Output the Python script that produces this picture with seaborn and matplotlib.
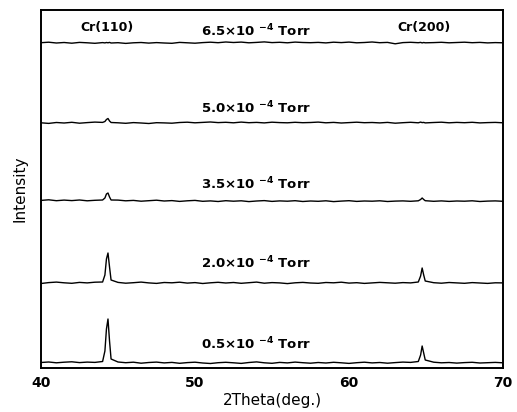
import numpy as np
import pandas as pd
import matplotlib
matplotlib.use("Agg")
import matplotlib.pyplot as plt
import seaborn as sns

# 2-theta sampling: coarse baseline steps, finer steps across the Cr(110) and Cr(200) peaks
two_theta = np.concatenate([
    np.arange(40.0, 44.01, 0.5),
    [44.15, 44.25, 44.35, 44.45, 44.55],
    np.arange(45.0, 64.01, 0.5),
    [64.5, 64.65, 64.75, 64.85, 64.95],
    np.arange(65.5, 70.01, 0.5),
])

# Measured intensity (arb. units) for each working pressure
i_05 = [0.5, 1.0, 0.2, 0.8, 1.2, 0.4, 0.9, 0.6, 1.5,
        12, 34, 44, 22, 4,
        1.0, 0.3, 0.8, -0.2, 0.5, 0.9, 0.1, 0.6, -0.3, 0.4, 0.8, 0.0, -0.5,
        0.3, 0.7, 0.2, -0.4, 0.5, 1.1, 0.2, -0.3, 0.6, 0.1, 0.9, 0.3, -0.2,
        0.5, 0.0, 0.7, 0.2, -0.4, 0.3, 0.8, 0.1, 0.5, -0.2, 0.4, 0.9, 0.6,
        1.5, 8, 17, 10, 3,
        0.8, 0.2, 0.5, -0.1, 0.4, 0.7, 0.0, 0.3, 0.6, 0.2]
i_20 = [-0.5, 0.4, 0.9, 0.2, -0.3, 0.6, 0.1, 0.8, 1.0,
        8, 24, 30, 16, 3,
        0.6, -0.2, 0.3, 0.9, 0.1, -0.4, 0.5, 0.2, 0.8, -0.1, 0.4, -0.5, 0.2,
        0.7, 0.0, 0.5, -0.3, 0.3, 0.9, -0.2, 0.4, 0.1, -0.6, 0.2, 0.6, 0.0,
        -0.3, 0.5, 0.2, 0.8, -0.1, 0.3, -0.4, 0.1, 0.6, 0.2, -0.2, 0.4, 0.1,
        1.0, 7, 15, 8, 2,
        0.3, -0.2, 0.5, 0.1, -0.3, 0.4, 0.0, -0.4, 0.2, 0.1]
i_35 = [0.6, 1.2, 0.3, 0.9, 0.4, 1.0, 0.2, 0.7, 1.0,
        3, 7, 8, 4, 1,
        0.9, 0.2, 0.6, -0.2, 0.3, 0.8, 0.0, 0.4, -0.4, 0.2, 0.6, -0.3, 0.1,
        -0.5, 0.3, -0.2, 0.2, -0.6, 0.0, 0.4, -0.4, 0.1, -0.2, 0.3, -0.5, 0.0,
        -0.3, 0.2, -0.6, -0.1, 0.3, -0.4, 0.0, -0.2, 0.2, -0.5, -0.1, 0.1, -0.3,
        0.2, 1.5, 3, 1.5, 0.3,
        -0.3, 0.1, -0.4, 0.0, -0.2, 0.2, -0.5, -0.1, 0.1, -0.3]
i_50 = [0.2, -0.4, 0.5, 0.0, 0.7, -0.2, 0.4, 0.9, 0.6,
        1.5, 3.5, 4.5, 2, 0.5,
        0.2, -0.3, 0.4, 0.0, -0.5, 0.3, 0.1, -0.2, 0.5, 0.8, 0.2, 0.6, 1.0,
        0.4, 0.7, 0.2, 0.9, 0.3, 0.6, 0.1, 0.8, 0.4, 0.2, 0.7, 0.3, 0.5,
        0.9, 0.2, 0.6, 0.0, 0.4, 0.8, 0.3, 0.5, 0.1, 0.6, -0.2, 0.3, 0.7,
        0.2, 0.9, 0.4, 0.6, 0.1,
        0.5, 0.8, 0.2, 0.6, 0.3, 0.7, 0.1, 0.4, 0.6, 0.2]
i_65 = [0.3, 0.8, 0.0, 0.5, -0.2, 0.6, 0.2, -0.3, 0.4,
        0.1, 0.5, 0.2, 0.6, 0.0,
        0.3, -0.4, 0.2, 0.5, -0.1, 0.4, 0.0, -0.3, 0.6, 0.2, -0.2, 0.4, 0.8,
        0.3, 1.0, 0.5, 0.9, 0.2, 0.6, 1.1, 0.4, 0.7, 0.2, 0.9, 0.5, 0.3,
        0.6, 0.1, 0.8, 0.4, 0.9, 0.2, 0.5, 1.0, 0.3, 0.6, -0.8, 0.4, 0.7,
        0.3, 0.6, 0.1, 0.5, 0.2,
        0.4, 0.7, 0.2, 0.5, 0.8, 0.3, 0.6, 0.1, 0.4, 0.2]

pressures = ["0.5", "2.0", "3.5", "5.0", "6.5"]
series = [i_05, i_20, i_35, i_50, i_65]
offsets = [5, 85, 167, 245, 325]          # vertical stacking of the patterns
label_y = [24, 105, 184, 260, 337]

frames = []
for p, vals, off in zip(pressures, series, offsets):
    frames.append(pd.DataFrame({"two_theta": two_theta,
                                "intensity": np.asarray(vals, float) + off,
                                "pressure": p}))
df = pd.concat(frames, ignore_index=True)

sns.set_style("white")
plt.rcParams["font.family"] = ["DejaVu Sans"]
plt.rcParams["mathtext.fontset"] = "dejavusans"
plt.rcParams["mathtext.default"] = "bf"
plt.rcParams["text.color"] = "black"
plt.rcParams["axes.labelcolor"] = "black"
plt.rcParams["xtick.color"] = "black"

fig = plt.figure(figsize=(5.17, 4.12), dpi=100)
ax = fig.add_axes([41 / 517, 44 / 412, 462 / 517, 358 / 412])

sns.lineplot(data=df, x="two_theta", y="intensity", hue="pressure",
             units="pressure", estimator=None, sort=False,
             palette=["black"] * len(pressures), linewidth=1.0,
             legend=False, ax=ax)

for p, ly in zip(pressures, label_y):
    ax.text(50.4, ly, p + "×10 $^{-4}$ Torr", ha="left", va="center",
            fontsize=9.5, fontweight="bold")

ax.text(44.3, 341, "Cr(110)", ha="center", va="center", fontsize=9, fontweight="bold")
ax.text(64.9, 341, "Cr(200)", ha="center", va="center", fontsize=9, fontweight="bold")

ax.set_xlim(40, 70)
ax.set_ylim(0, 358)
ax.set_xticks([40, 50, 60, 70])
ax.set_xticklabels(["40", "50", "60", "70"], fontweight="bold", fontsize=10)
ax.set_yticks([])
ax.tick_params(axis="x", length=0, pad=6)
ax.set_xlabel("2Theta(deg.)", fontsize=11, labelpad=2)
ax.set_ylabel("Intensity", fontsize=11, labelpad=10)

for s in ax.spines.values():
    s.set_color("black")
    s.set_linewidth(1.4)

fig.savefig("out.png", dpi=100)
